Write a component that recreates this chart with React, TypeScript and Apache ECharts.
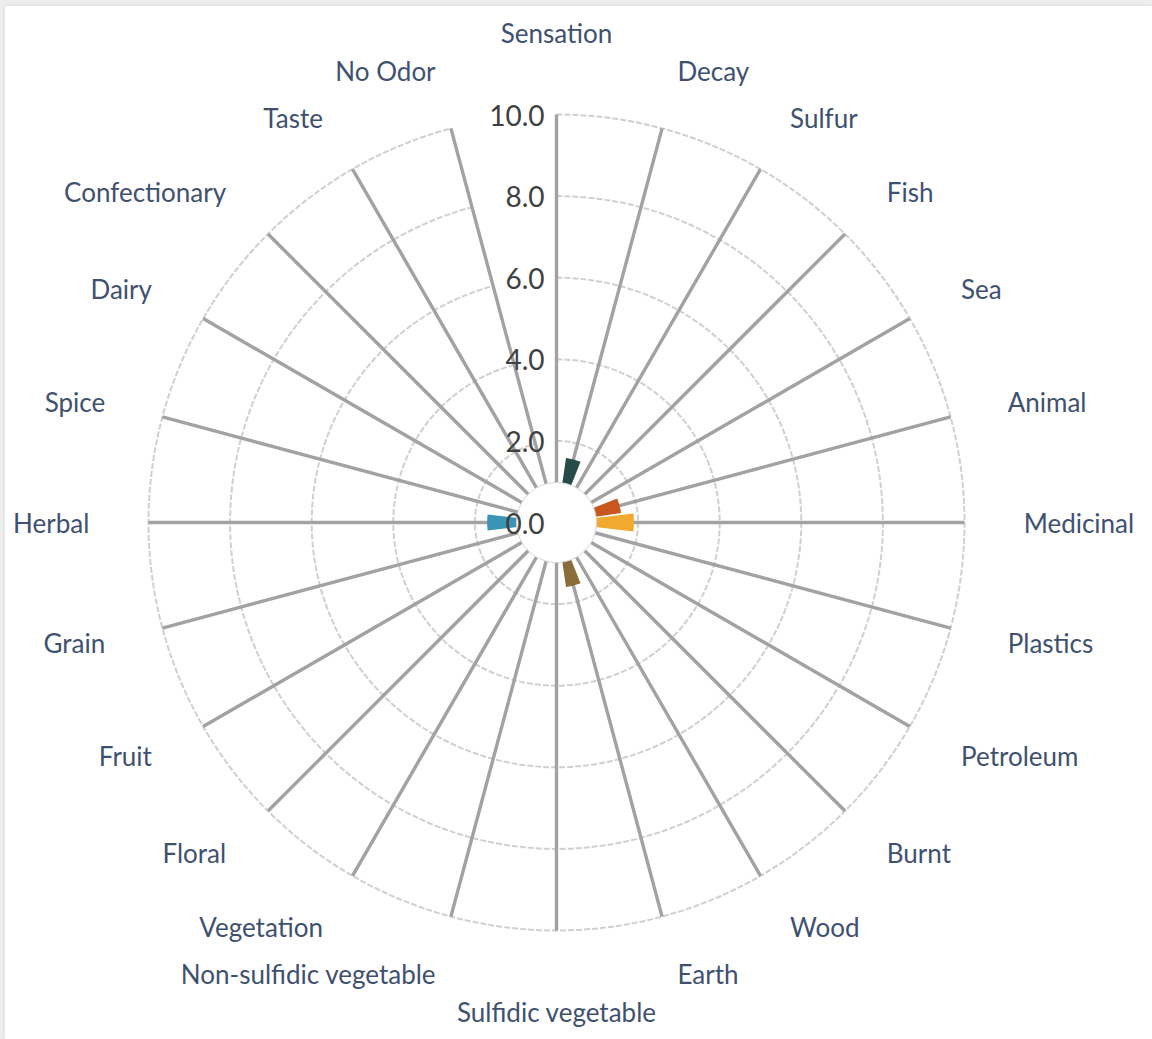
import React, { useEffect, useRef } from "react";
import * as echarts from "echarts";

const CATEGORIES = [
  "Sensation", "Decay", "Sulfur", "Fish", "Sea", "Animal", "Medicinal", "Plastics",
  "Petroleum", "Burnt", "Wood", "Earth", "Sulfidic vegetable", "Non-sulfidic vegetable",
  "Vegetation", "Floral", "Fruit", "Grain", "Herbal", "Spice", "Dairy", "Confectionary",
  "Taste", "No Odor",
];

const VALUES = [
  0, 1.6, 0, 0, 0, 1.6, 1.9, 0,
  0, 0, 0, 1.6, 0, 0,
  0, 0, 0, 0, 1.7, 0, 0, 0,
  0, 0,
];

const BAR_COLORS: Record<string, string> = {
  Decay: "#274C47",
  Animal: "#C9571D",
  Medicinal: "#F1AA2F",
  Earth: "#8B6C3B",
  Herbal: "#3A94B5",
};

const RADIUS_MIN = 0;
const RADIUS_MAX = 10;
const RADIUS_STEP = 2;

const CENTER: [number, number] = [556.5, 522.5];
const OUTER_R = 408;
const HOLE_R = 40;
const LABEL_R_VALUE = 11.45;

export default function App() {
  const ref = useRef<HTMLDivElement>(null);

  useEffect(() => {
    if (!ref.current) return;
    const chart = echarts.init(ref.current, undefined, { renderer: "svg" });

    const option: any = {
      animation: false,
      polar: [
        { center: CENTER, radius: [0, OUTER_R] },
        { center: CENTER, radius: [0, OUTER_R] },
      ],
      angleAxis: [
        {
          polarIndex: 0,
          type: "category",
          data: CATEGORIES,
          boundaryGap: false,
          startAngle: 90,
          clockwise: true,
          z: 1,
          axisLine: { show: false },
          axisTick: { show: false },
          axisLabel: { show: false },
          splitLine: { show: true, lineStyle: { color: "#a2a2a2", width: 3.4 } },
        },
        {
          polarIndex: 1,
          type: "category",
          data: CATEGORIES,
          boundaryGap: false,
          startAngle: 90,
          show: false,
        },
      ],
      radiusAxis: [
        {
          polarIndex: 0,
          type: "value",
          min: RADIUS_MIN,
          max: RADIUS_MAX,
          interval: RADIUS_STEP,
          z: 0,
          axisLine: { show: false },
          axisTick: { show: false },
          axisLabel: { show: false },
          splitLine: {
            show: true,
            lineStyle: { color: "#d0d0d0", width: 2, type: [6, 2] },
          },
        },
        {
          polarIndex: 1,
          type: "value",
          min: RADIUS_MIN,
          max: RADIUS_MAX,
          interval: RADIUS_STEP,
          z: 6,
          axisLine: { show: false },
          axisTick: { show: false },
          splitLine: { show: false },
          axisLabel: {
            show: true,
            margin: 12,
            color: "#404040",
            fontSize: 28,
            fontFamily: "Lato",
            formatter: (v: number) => v.toFixed(1),
          },
        },
      ],
      graphic: {
        elements: [
          {
            type: "circle",
            z: 3,
            silent: true,
            shape: { cx: CENTER[0], cy: CENTER[1], r: HOLE_R },
            style: { fill: "#ffffff", stroke: "#d6d6d6", lineWidth: 1 },
          },
        ],
      },
      series: [
        {
          type: "bar",
          coordinateSystem: "polar",
          polarIndex: 0,
          barWidth: "88%",
          z: 2,
          data: VALUES.map((v, i) => ({
            value: v,
            itemStyle: { color: BAR_COLORS[CATEGORIES[i]] || "#888888" },
          })),
        },
        {
          type: "custom",
          coordinateSystem: "polar",
          polarIndex: 0,
          z: 4,
          silent: true,
          data: CATEGORIES.map((c) => [LABEL_R_VALUE, c]),
          renderItem: (params: any, api: any) => {
            const idx = params.dataIndex;
            const c = api.coord([0, idx]);
            const p = api.coord([api.value(0), idx]);
            const dx = p[0] - c[0];
            const dy = p[1] - c[1];
            let align = "left";
            let va = "middle";
            let y = p[1];
            if (Math.abs(dx) < 1) {
              align = "center";
              va = dy < 0 ? "bottom" : "top";
              y += dy < 0 ? -9 : 9;
            } else {
              align = dx > 0 ? "left" : "right";
            }
            return {
              type: "text",
              x: p[0],
              y,
              style: {
                text: CATEGORIES[idx],
                fill: "#3F5170",
                fontSize: 26,
                fontFamily: "Lato",
                align,
                verticalAlign: va,
              },
            };
          },
        },
      ],
    };

    chart.setOption(option);
    return () => chart.dispose();
  }, []);

  return (
    <div style={{ position: "fixed", left: 0, top: 0, width: 1152, height: 1039, background: "#ededed" }}>
      <div
        style={{
          position: "absolute",
          left: 5,
          top: 6,
          right: 0,
          bottom: 0,
          background: "#ffffff",
          boxShadow: "0 0 4px rgba(0,0,0,0.08)",
        }}
      />
      <div ref={ref} style={{ position: "absolute", left: 0, top: 0, width: 1152, height: 1039 }} />
    </div>
  );
}
